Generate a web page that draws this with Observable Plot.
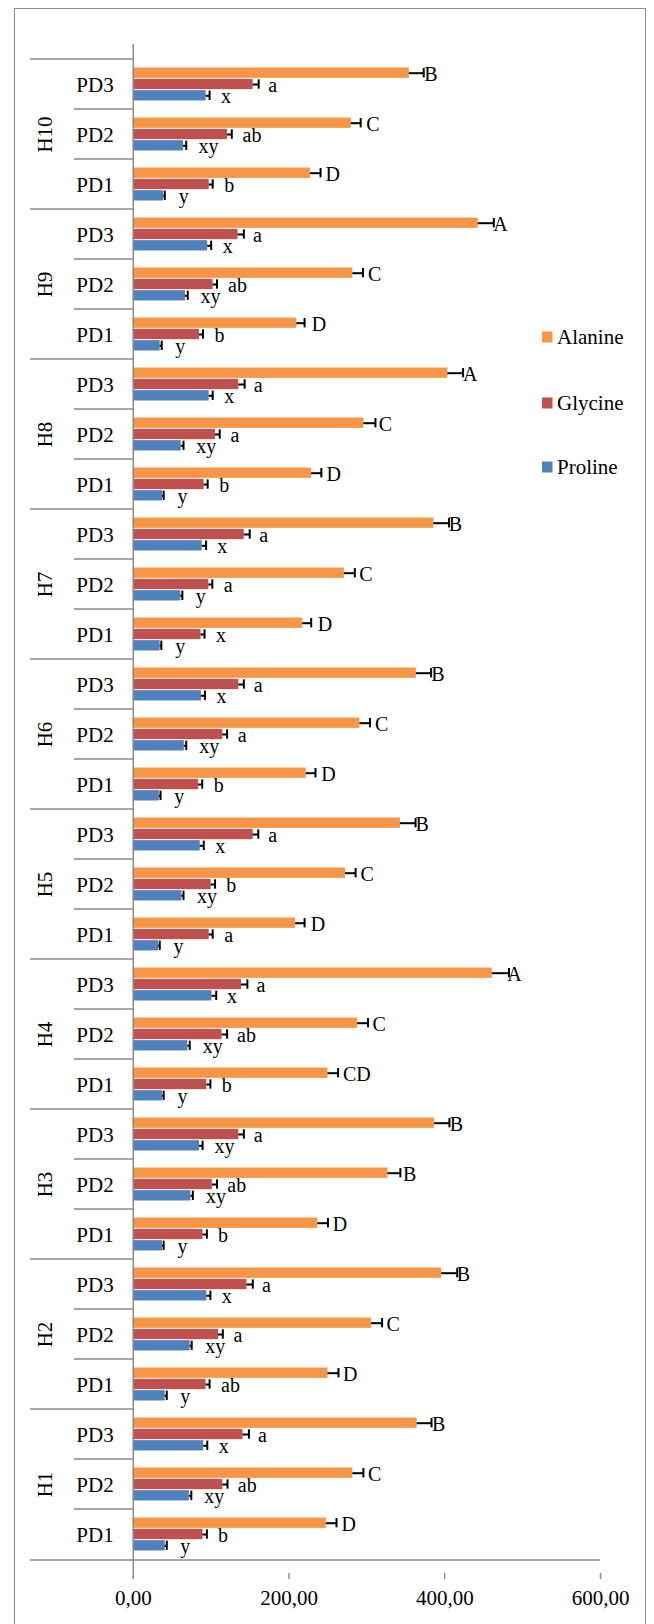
<!DOCTYPE html>
<html><head><meta charset="utf-8">
<script src="https://cdn.jsdelivr.net/npm/d3@7"></script>
<script src="https://cdn.jsdelivr.net/npm/@observablehq/plot@0.6"></script>
<style>
html,body{margin:0;padding:0;background:#fff;width:654px;height:1624px;overflow:hidden;}
#chart{position:absolute;left:0;top:0;}
#frame{position:absolute;left:14px;top:8px;width:632px;height:1640px;box-sizing:border-box;border:1.5px solid #8a8a8a;pointer-events:none;}
#legend{position:absolute;left:0;top:0;}
</style></head><body>
<div id="chart"></div><div id="frame"></div><svg id="legend" width="654" height="520"></svg>
<script>
// ---- data (per hybrid: [PD1, PD2, PD3]) ----
const hybrids = ["H1","H2","H3","H4","H5","H6","H7","H8","H9","H10"];
const doses = ["PD1","PD2","PD3"];
const series = ["Alanine","Glycine","Proline"];
const seriesColors = ["#F79646","#C0504D","#4F81BD"];

const alanine = [[248,282,364.5],[250,306,396],[237,327,387],[250,288,461],[208.5,272.5,343],
                 [222,291,363.5],[217.5,271,386],[229,296,404],[210,282,443],[227.5,280,354.5]];
const alanineErr = [[13,13.5,18.5],[13.5,13.5,20],[13,16,19],[13,13.5,21.5],[11.5,13,19.5],
                    [12,13,19],[11,13.5,19.5],[12.5,15,19.5],[10,13,20],[13,12,18.5]];
const alanineLetters = [["D","C","B"],["D","C","B"],["D","B","B"],["CD","C","A"],["D","C","B"],
                        ["D","C","B"],["D","C","B"],["D","C","A"],["D","C","A"],["D","C","B"]];

const glycine = [[89.5,115,141],[93.5,109.5,146],[89.5,101.5,135.5],[94.5,114,139],[97.5,100,154],
                 [84,115,135.5],[87,97,142.5],[91,105.5,135.5],[85,102.5,134.5],[97.5,121,154]];
const glycineErr = [[5,6,7.5],[4.5,5.5,7.5],[5,6,6.5],[4.5,6.5,7.5],[4.5,5,6.5],
                    [4.5,5.5,6.5],[4.5,4.5,7],[4.5,5.5,7.5],[4.5,5,7.5],[4.5,5.5,7]];
const glycineLetters = [["b","ab","a"],["ab","a","a"],["b","ab","a"],["b","ab","a"],["a","b","a"],
                        ["b","a","a"],["x","a","a"],["b","a","a"],["b","ab","a"],["b","ab","a"]];

const proline = [[41,72,90.5],[41,73,94.5],[37.5,74,85],[37.5,70,101],[32.5,62.5,86],
                 [33.5,65.5,87.5],[34.5,61,88.5],[37.5,61.5,97.5],[34.5,67,95.5],[39,64.5,93.5]];
const prolineErr = [[2,2.5,4.5],[2,2,4.5],[1.5,2.5,4],[1.5,2.5,5.5],[1.5,2,4.5],
                    [1.5,2.5,4.5],[1.5,2,5],[1.5,3,4.5],[2,3,4.5],[1.5,3.5,4.5]];
const prolineLetters = [["y","xy","x"],["y","xy","x"],["y","xy","xy"],["y","xy","x"],["y","xy","x"],
                        ["y","xy","x"],["y","y","x"],["y","xy","x"],["y","xy","x"],["y","xy","x"]];

const xTicks = [0,200,400,600];

// ---- build table ----
const vals = [alanine, glycine, proline];
const errs = [alanineErr, glycineErr, prolineErr];
const lets = [alanineLetters, glycineLetters, prolineLetters];
const rows = [];
hybrids.forEach((h,i) => doses.forEach((p,j) => series.forEach((s,k) => {
  rows.push({key: h + " " + p, hybrid: h, dose: p, series: s,
             value: vals[k][i][j], err: errs[k][i][j], letter: lets[k][i][j]});
})));
const catRows = [];
hybrids.slice().reverse().forEach(h => doses.slice().reverse().forEach(p => catRows.push({key: h + " " + p, hybrid: h, dose: p})));
const keys = catRows.map(d => d.key);

// ---- layout ----
const W = 654, H = 1624, mt = 44, mb = 51, ml = 30, mr = 54;
const xMin = -132;
const step = (H - mt - mb) / keys.length;
const barH = 11.3;
const gray = "#8a8a8a";
const font = "'Liberation Serif','Times New Roman',serif";
const fmt = d => d.toFixed(2).replace(".", ",");

const marks = [];
series.forEach((s,k) => {
  const d = rows.filter(r => r.series === s);
  const top = (step - 3*barH)/2 + k*barH;
  marks.push(Plot.barX(d, {x: "value", y: "key", fill: seriesColors[k],
    insetTop: top, insetBottom: step - top - barH}));
});
series.forEach((s,k) => {
  const d = rows.filter(r => r.series === s);
  const top = (step - 3*barH)/2 + k*barH;
  const off = top + barH/2 - step/2;
  marks.push(Plot.ruleY(d, {x1: "value", x2: r => r.value + r.err, y: "key", dy: off, stroke: "#000", strokeWidth: 2}));
  marks.push(Plot.tickX(d, {x: r => r.value + r.err, y: "key", insetTop: top + 0.5, insetBottom: step - top - barH + 0.5, stroke: "#000", strokeWidth: 2}));
  marks.push(Plot.text(d, {x: "value", y: "key", text: "letter", dx: 15, dy: off + 1, textAnchor: "start", fontSize: 20, fill: "#000"}));
});
// category table
marks.push(Plot.ruleY(catRows.filter(d => d.dose === "PD3"), {y: "key", x1: xMin, x2: 0, dy: -step/2, stroke: gray, strokeWidth: 1.5}));
marks.push(Plot.ruleY(catRows.filter(d => d.dose !== "PD3"), {y: "key", x1: xMin, x2: 0, insetLeft: 44, dy: -step/2, stroke: gray, strokeWidth: 1.5}));
marks.push(Plot.ruleY(catRows.slice(-1), {y: "key", dy: step/2, stroke: gray, strokeWidth: 1.5}));
marks.push(Plot.ruleX([0], {stroke: gray, strokeWidth: 1.5}));
marks.push(Plot.text(catRows, {x: 0, y: "key", text: "dose", dx: -38.3, dy: 1, fontSize: 21, fill: "#000"}));
marks.push(Plot.text(catRows.filter(d => d.dose === "PD2"), {x: 0, y: "key", text: "hybrid", dx: -88.3, rotate: -90, fontSize: 21, fill: "#000"}));
marks.push(Plot.axisX(xTicks, {tickFormat: fmt, tickSize: 6, tickPadding: 11, stroke: gray, fill: "#000", fontSize: 21, strokeWidth: 1.5, label: null}));

const chart = Plot.plot({
  width: W, height: H, marginTop: mt, marginBottom: mb, marginLeft: ml, marginRight: mr,
  x: {domain: [xMin, 600], axis: null, label: null},
  y: {domain: keys, padding: 0, axis: null},
  style: {fontFamily: font, fontSize: "21px", background: "transparent", color: "#000", overflow: "visible"},
  marks
});
document.getElementById("chart").appendChild(chart);

// legend
const lg = d3.select("#legend");
const legendY = [337, 403, 467];
series.forEach((s,k) => {
  lg.append("rect").attr("x", 542).attr("y", legendY[k] - 5.5).attr("width", 10.5).attr("height", 11).attr("fill", seriesColors[k]);
  lg.append("text").attr("x", 557).attr("y", legendY[k] + 7).attr("font-family", font).attr("font-size", 21).attr("fill", "#000").text(s);
});
</script>
</body></html>
